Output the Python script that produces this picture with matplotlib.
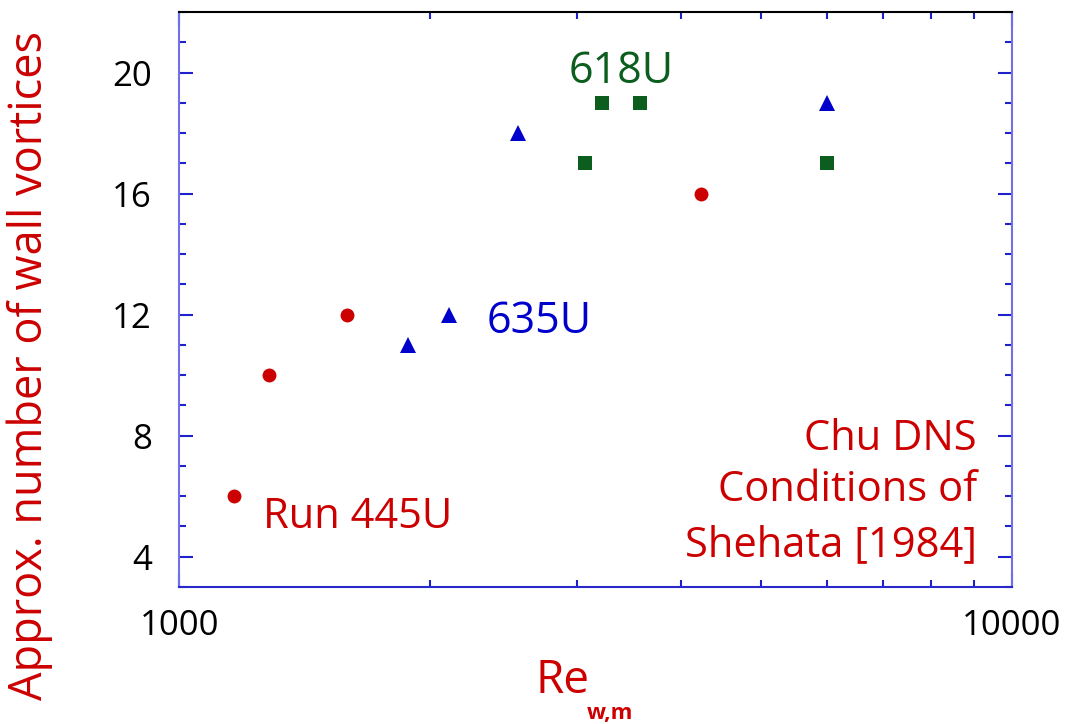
import numpy as np
import matplotlib
matplotlib.use('Agg')
import matplotlib.pyplot as plt
from matplotlib import ticker

plt.rcParams['font.family'] = ['Open Sans', 'DejaVu Sans']

red = '#CC0000'
blue = '#0000CC'
green = '#0B5E1E'

# Run 445U
re_445 = [1163, 1281, 1589, 4230]
n_445 = [6, 10, 12, 16]
# Run 635U
re_635 = [1880, 2108, 2551, 6000]
n_635 = [11, 12, 18, 19]
# Run 618U
re_618 = [3070, 3218, 3574, 6000]
n_618 = [17, 19, 19, 17]

fig = plt.figure(figsize=(10.74, 7.24), dpi=100)
ax = fig.add_axes([0.1671, 0.1892, 0.7752, 0.7942])

ax.plot(re_445, n_445, 'o', color=red, markersize=10, markeredgewidth=0)
ax.plot(re_635, n_635, '^', color=blue, markersize=11, markeredgewidth=0)
ax.plot(re_618, n_618, 's', color=green, markersize=10, markeredgewidth=0)

ax.set_xscale('log')
ax.set_xlim(1000, 10000)
ax.set_ylim(3, 22)
ax.yaxis.set_major_locator(ticker.MultipleLocator(4))
ax.yaxis.set_minor_locator(ticker.MultipleLocator(1))
ax.xaxis.set_major_locator(ticker.FixedLocator([1000, 10000]))
ax.xaxis.set_major_formatter(ticker.FuncFormatter(lambda v, p: '%d' % v))
ax.xaxis.set_minor_formatter(ticker.NullFormatter())

ax.tick_params(which='both', direction='in', top=True, right=True,
               color='#2020CC', width=1.5, labelsize=25)
ax.tick_params(which='major', length=10)
ax.tick_params(which='minor', length=5)
ax.tick_params(axis='x', pad=16)
ax.tick_params(axis='y', pad=20)

for side in ['left', 'right']:
    ax.spines[side].set_color('#7070E8')
ax.spines['bottom'].set_color('#2828CC')
ax.spines['top'].set_color('black')
for s in ax.spines.values():
    s.set_linewidth(1.5)

# run labels
ax.text(2937, 19.67, '618U', color=green, fontsize=31, va='baseline')
ax.text(2341, 11.40, '635U', color=blue, fontsize=31, va='baseline')
ax.text(1260, 4.96, 'Run 445U', color=red, fontsize=30, va='baseline')
ax.text(9078, 7.54, 'Chu DNS', color=red, fontsize=30, ha='right', va='baseline')
ax.text(9078, 5.83, 'Conditions of', color=red, fontsize=30, ha='right', va='baseline')
ax.text(9078, 4.02, 'Shehata [1984]', color=red, fontsize=30, ha='right', va='baseline')

fig.text(30 / 1074, 1 - 366 / 724, 'Approx. number of wall vortices', color=red,
         fontsize=32.5, rotation=90, ha='center', va='center')
fig.text(535 / 1074, 1 - 693 / 724, 'Re', color=red, fontsize=33, va='baseline')
fig.text(587 / 1074, 1 - 719 / 724, 'w,m', color=red, fontsize=16,
         fontweight='bold', va='baseline')

fig.savefig('out.png', dpi=100)
